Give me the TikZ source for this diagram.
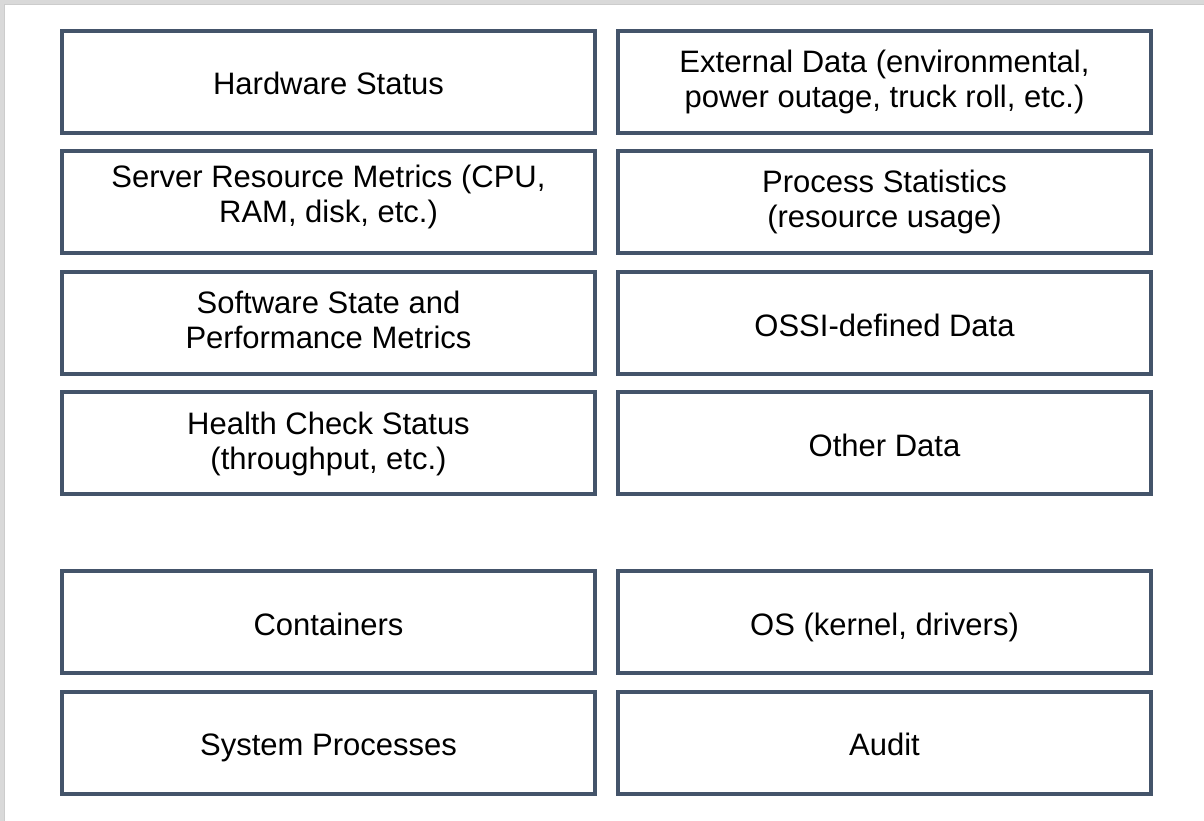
\documentclass[tikz,border=0pt]{standalone}
\usepackage{fontspec}
\setmainfont{Liberation Sans}
\definecolor{boxline}{HTML}{44546A}
\definecolor{framegray}{HTML}{D9D9D9}
\newcommand{\ls}{\rule[-6.5pt]{0pt}{35pt}}
\begin{document}
\begin{tikzpicture}[x=1pt,y=-1pt,
  databox/.style={draw=boxline, line width=4pt, rectangle, minimum width=533pt,
    minimum height=102pt, inner sep=0pt, align=center,
    font=\fontsize{31}{35}\selectfont, text=black},
  lbl/.style={font=\fontsize{31}{35}\selectfont, text=black, align=center, inner sep=0pt}]
\useasboundingbox (0,0) rectangle (1204,821);
\fill[framegray] (0,0) rectangle (1204,4.5);
\fill[framegray] (0,0) rectangle (4.5,821);
\draw[black!20, line width=0.8pt] (4.5,4.5) -- (1204,4.5);
\draw[black!20, line width=0.8pt] (4.5,4.5) -- (4.5,821);
% boxes
\node[databox] (hw)  at (328.5,82)  {};
\node[databox] (ext) at (884.5,82)  {};
\node[databox] (srm) at (328.5,202) {};
\node[databox] (ps)  at (884.5,202) {};
\node[databox] (ssp) at (328.5,323) {};
\node[databox] (ossi) at (884.5,323) {};
\node[databox] (hc)  at (328.5,443) {};
\node[databox] (oth) at (884.5,443) {};
\node[databox] (con) at (328.5,622) {};
\node[databox] (os)  at (884.5,622) {};
\node[databox] (sp)  at (328.5,742.5) {};
\node[databox] (aud) at (884.5,742.5) {};
% labels
\node[lbl, yshift=-2pt] (thw)  at (hw)  {\ls Hardware Status};
\node[lbl, yshift=3pt]  (text) at (ext) {\ls External Data (environmental,\\\ls power outage, truck roll, etc.)};
\node[lbl, yshift=8pt]  (tsrm) at (srm) {\ls Server Resource Metrics (CPU,\\\ls RAM, disk, etc.)};
\node[lbl, yshift=3pt]  (tps)  at (ps)  {\ls Process Statistics\\\ls (resource usage)};
\node[lbl, yshift=3pt]  (tssp) at (ssp) {\ls Software State and\\\ls Performance Metrics};
\node[lbl, yshift=-2pt] (tossi) at (ossi) {\ls OSSI-defined Data};
\node[lbl, yshift=2pt]  (thc)  at (hc)  {\ls Health Check Status\\\ls (throughput, etc.)};
\node[lbl, yshift=-2pt] (toth) at (oth) {\ls Other Data};
\node[lbl, yshift=-2pt] (tcon) at (con) {\ls Containers};
\node[lbl, yshift=-2pt] (tos)  at (os)  {\ls OS (kernel, drivers)};
\node[lbl, yshift=-2pt] (tsp)  at (sp)  {\ls System Processes};
\node[lbl, yshift=-2pt] (taud) at (aud) {\ls Audit};
\end{tikzpicture}
\end{document}
